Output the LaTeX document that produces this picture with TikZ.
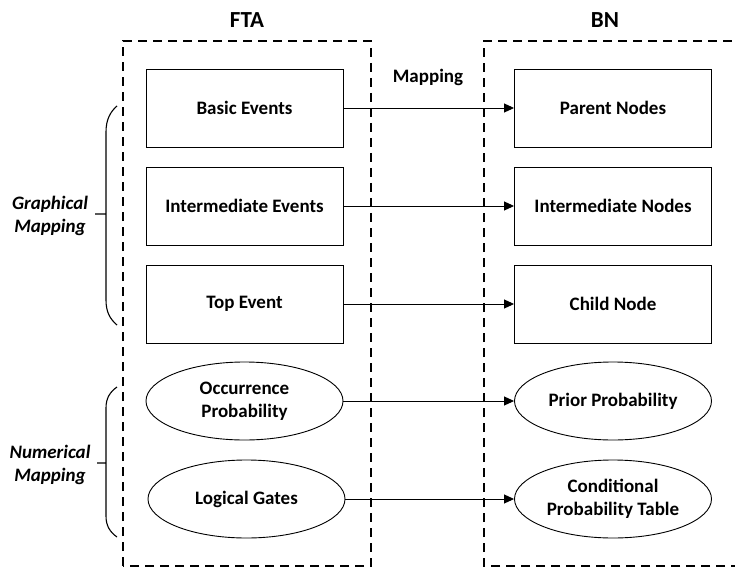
\documentclass[tikz,border=0pt]{standalone}
\usepackage{fontspec}
\setmainfont{Carlito}
\usetikzlibrary{shapes.geometric,arrows.meta}
\begin{document}
\begin{tikzpicture}[x=1pt,y=-1pt,
  every node/.style={font=\bfseries\fontsize{19}{23}\selectfont, align=center},
  box/.style={draw, line width=0.9pt, minimum width=197pt, minimum height=78pt, inner sep=0pt},
  oval/.style={draw, ellipse, line width=0.9pt, minimum width=197pt, minimum height=78pt, inner sep=0pt},
  frame/.style={draw, line width=1.5pt, dash pattern=on 9pt off 6pt},
  map/.style={draw, line width=0.9pt, -{Triangle[length=10pt,width=9pt]}},
  brace/.style={draw, line width=1.1pt},
  title/.style={font=\bfseries\fontsize{23}{26}\selectfont},
  side/.style={font=\bfseries\itshape\fontsize{19}{23}\selectfont}]
\useasboundingbox (0,0) rectangle (735,569);

% dashed group frames
\draw[frame] (123,566) -- (123,41) -- (371,41) -- (371,566) -- cycle;
\draw[frame] (740,566) -- (484,566) -- (484,41) -- (740,41);

% titles
\node[title] (fta) at (247,20) {FTA};
\node[title] (bn) at (605,20) {BN};
\node (mapping) at (428,77) {Mapping};

% FTA elements
\node[box] (be) at (244.5,108) {Basic Events};
\node[box] (ie) at (244.5,206) {Intermediate Events};
\node[box] (te) at (244.5,304) {Top Event};
\node[oval] (op) at (244.5,401) {Occurrence\\Probability};
\node[oval] (lg) at (246.5,499) {Logical Gates};

% BN elements
\node[box] (pn) at (613,108) {Parent Nodes};
\node[box] (in) at (613,206) {Intermediate Nodes};
\node[box] (cn) at (613,304) {Child Node};
\node[oval] (pp) at (613,401) {Prior Probability};
\node[oval] (cpt) at (613,499) {Conditional\\Probability Table};

% mapping connectors
\draw[map] (be) -- (pn);
\draw[map] (ie) -- (in);
\draw[map] (te) -- (cn);
\draw[map] (op) -- (pp);
\draw[map] (lg) -- (cpt);

% braces
\draw[brace] (117,106) .. controls (110,112) and (106,120) .. (106,132)
  -- (106,214) -- (95,214) -- (106,214) -- (106,300)
  .. controls (106,312) and (110,319) .. (117,325);
\draw[brace] (117,387) .. controls (110,392) and (106,398) .. (106,408)
  -- (106,463) -- (97,463) -- (106,463) -- (106,516)
  .. controls (106,526) and (110,532) .. (117,537);

% brace labels
\node[side] (gm) at (50,216) {Graphical\\Mapping};
\node[side] (nm) at (50,465) {Numerical\\Mapping};
\end{tikzpicture}
\end{document}
